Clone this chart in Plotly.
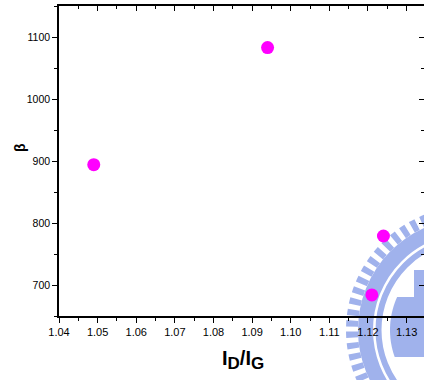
import numpy as np
import plotly.graph_objects as go

# Measured samples: intensity ratio I_D/I_G versus beta
ratio = [1.049, 1.094, 1.121, 1.124]
beta = [894, 1083, 684, 779]

x_ticks = [1.04, 1.05, 1.06, 1.07, 1.08, 1.09, 1.10, 1.11, 1.12, 1.13]
x_tick_text = ["1.04", "1.05", "1.06", "1.07", "1.08", "1.09", "1.10", "1.11", "1.12", "1.13"]
y_ticks = [700, 800, 900, 1000, 1100]
y_tick_text = ["700", "800", "900", "1000", "1100"]

X_RANGE = [1.04, 1.1345]
Y_RANGE = [650, 1150]

W, H = 424, 380
M_L, M_R, M_T, M_B = 59, 0, 6, 64
PW = W - M_L - M_R
PH = H - M_T - M_B

FONT = "Liberation Sans, Arial, sans-serif"
MARK = "#FF00FF"
WM = "rgb(160,178,236)"


def px_x(px):
    return (px - M_L) / PW


def px_y(py):
    return (H - M_B - py) / PH


fig = go.Figure()

fig.add_trace(go.Scatter(
    x=ratio, y=beta, mode="markers",
    marker=dict(color=MARK, size=13, line=dict(width=0)),
    showlegend=False, hoverinfo="x+y",
))

# companion trace for the mirrored top/right tick axes
fig.add_trace(go.Scatter(
    x=[], y=[], xaxis="x2", yaxis="y2", mode="markers",
    showlegend=False, hoverinfo="skip",
))

# faint emblem watermark in the lower right corner
cx, cy = 470, 330


def ring(r, width, dash=None):
    line = dict(color=WM, width=width)
    if dash:
        line["dash"] = dash
    return dict(
        type="circle", xref="paper", yref="paper", layer="below",
        x0=px_x(cx - r), x1=px_x(cx + r), y0=px_y(cy + r), y1=px_y(cy - r),
        line=line, fillcolor="rgba(0,0,0,0)",
    )


shapes = [
    ring(118, 12, "6px,5px"),
    ring(104.5, 15),
    ring(91.5, 6),
]

# inner filled segment
ys = np.linspace(297, 357, 25)
xs = cx - np.sqrt(80 ** 2 - (ys - cy) ** 2)
pts = [(px_x(a), px_y(b)) for a, b in zip(xs, ys)]
pts += [(px_x(440), px_y(357)), (px_x(440), px_y(297))]
path = "M " + " L ".join(f"{a:.5f},{b:.5f}" for a, b in pts) + " Z"
shapes.append(dict(type="path", xref="paper", yref="paper", layer="below",
                   path=path, fillcolor=WM, line=dict(width=0)))
shapes.append(dict(type="rect", xref="paper", yref="paper", layer="below",
                   x0=px_x(414), x1=px_x(430), y0=px_y(308), y1=px_y(270),
                   fillcolor=WM, line=dict(width=0)))

axis_common = dict(
    linecolor="black", linewidth=1.5, tickcolor="black", tickwidth=1.2,
    showgrid=False, zeroline=False,
)

fig.update_layout(
    width=W, height=H,
    margin=dict(l=M_L, r=M_R, t=M_T, b=M_B, pad=0),
    paper_bgcolor="white", plot_bgcolor="white",
    font=dict(family=FONT, color="black"),
    xaxis=dict(
        range=X_RANGE, showline=True, ticks="outside", ticklen=5,
        tickmode="array", tickvals=x_ticks, ticktext=x_tick_text,
        tickfont=dict(size=11, family=FONT),
        minor=dict(ticks="outside", ticklen=3, dtick=0.005, tick0=1.04,
                   tickcolor="black", tickwidth=1.2),
        **axis_common,
    ),
    yaxis=dict(
        range=Y_RANGE, showline=True, ticks="outside", ticklen=5,
        tickmode="array", tickvals=y_ticks, ticktext=y_tick_text,
        tickfont=dict(size=10.5, family=FONT),
        minor=dict(ticks="outside", ticklen=3, dtick=50, tick0=650,
                   tickcolor="black", tickwidth=1.2),
        **axis_common,
    ),
    xaxis2=dict(
        range=X_RANGE, overlaying="x", side="top", anchor="y2",
        showline=True, ticks="inside", ticklen=5, showticklabels=False,
        tickmode="array", tickvals=x_ticks,
        minor=dict(ticks="inside", ticklen=3, dtick=0.005, tick0=1.04,
                   tickcolor="black", tickwidth=1.2),
        **axis_common,
    ),
    yaxis2=dict(
        range=Y_RANGE, overlaying="y", side="right", anchor="x2",
        showline=False, ticks="inside", ticklen=5, showticklabels=False,
        tickmode="array", tickvals=y_ticks,
        minor=dict(ticks="inside", ticklen=3, dtick=50, tick0=650,
                   tickcolor="black", tickwidth=1.2),
        **axis_common,
    ),
    shapes=shapes,
    annotations=[
        dict(text="<b>β</b>", xref="paper", yref="paper",
             x=px_x(20), y=px_y(148), textangle=-90, showarrow=False,
             xanchor="center", yanchor="middle",
             font=dict(size=14, family=FONT, color="black")),
        dict(text="<b>I<sub><span style='font-size:17px'>D</span></sub>/I"
                  "<sub><span style='font-size:17px'>G</span></sub></b>",
             xref="paper", yref="paper",
             x=px_x(243), y=px_y(360), showarrow=False,
             xanchor="center", yanchor="middle",
             font=dict(size=20, family=FONT, color="black")),
    ],
)

fig.write_html("out.html")
